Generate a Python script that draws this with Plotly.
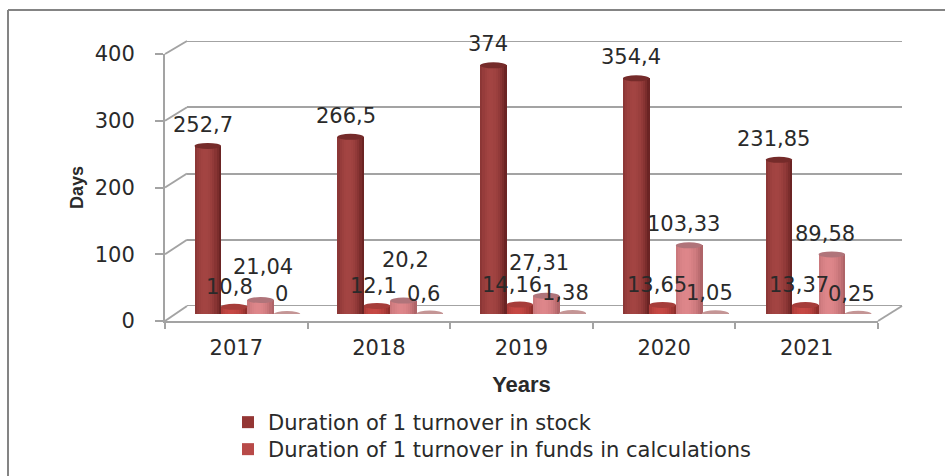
import math
import plotly.graph_objects as go

W, H = 945, 476

years = ["2017", "2018", "2019", "2020", "2021"]
stock = [252.7, 266.5, 374, 354.4, 231.85]
funds = [10.8, 12.1, 14.16, 13.65, 13.37]
third = [21.04, 20.2, 27.31, 103.33, 89.58]
fourth = [0, 0.6, 1.38, 1.05, 0.25]

stock_labels = ["252,7", "266,5", "374", "354,4", "231,85"]
funds_labels = ["10,8", "12,1", "14,16", "13,65", "13,37"]
third_labels = ["21,04", "20,2", "27,31", "103,33", "89,58"]
fourth_labels = ["0", "0,6", "1,38", "1,05", "0,25"]

y_ticks = [0, 100, 200, 300, 400]

# name, values, labels, legend colour, edge, centre, top colour
series = [
    ("Duration of 1 turnover in stock", stock, stock_labels, "#943634", (104, 34, 34), (163, 68, 66), "#752b2a"),
    ("Duration of 1 turnover in funds in calculations", funds, funds_labels, "#b84a48", (140, 44, 42), (198, 72, 68), "#a63d3a"),
    ("third", third, third_labels, "#d4848a", (172, 98, 102), (222, 134, 138), "#b0747a"),
    ("fourth", fourth, fourth_labels, "#c49595", (186, 136, 136), (204, 158, 158), "#c49595"),
]
legend_refs = ["legend", "legend2", None, None]

# label nudges, pixels from the top of the cylinder
label_dx = [[-5] * 5, [-5, -3, -8, -6, -6], [2, 2, -7, -6, -7], [-6, -6, -7, -6, -7]]
label_dy = [[21] * 5, [20] * 5, [33, 41, 33, 21, 20], [20] * 5]

# frame geometry in pixels
FRONT_L, FRONT_R, FRONT_0, FRONT_T = 165, 878, 321, 54
BACK_L, BACK_R, BACK_0, BACK_T = 187, 902, 306, 41
MID_L, MID_R, MID_0, MID_T = 176, 890, 314, 48
AXIS_GREY = "#a3a3a3"
TEXT = "#2a2a2a"
FONT = "DejaVu Sans"

BAR_W = 0.185      # one cylinder, in category units
STRIPS = 12
ELL = 3 * 400 / (MID_0 - MID_T)   # half height of the cylinder ends, in y units


def px(x):
    return x / W


def py(y):
    return 1 - y / H


def mix(a, b, w):
    return "rgb(%d,%d,%d)" % tuple(round(a[i] + (b[i] - a[i]) * w) for i in range(3))


fig = go.Figure()
positions = list(range(len(years)))
shapes = []
annotations = []

# invisible traces so the front and back frames get drawn
fig.add_trace(go.Scatter(x=years, y=[0] * 5, mode="none", showlegend=False, hoverinfo="skip"))
fig.add_trace(go.Scatter(x=positions, y=[0] * 5, mode="none", showlegend=False, hoverinfo="skip",
                         xaxis="x2", yaxis="y2"))

for i, (name, values, labels, legend_col, edge, centre, top_col) in enumerate(series):
    start = (i - 2) * BAR_W
    # full cylinder underneath, this is also the legend entry
    fig.add_trace(go.Bar(
        x=positions, y=values, width=BAR_W, offset=start, name=name,
        marker=dict(color=legend_col, line=dict(width=0)),
        showlegend=legend_refs[i] is not None, legend=legend_refs[i] or "legend",
        xaxis="x3", yaxis="y3",
    ))
    # shading, narrow strips side by side
    for k in range(STRIPS):
        t = (k + 0.5) / STRIPS * 2 - 1
        weight = max(0, 1 - ((t + 0.2) / 1.15) ** 2)
        low = -ELL * math.sqrt(1 - t * t)
        fig.add_trace(go.Bar(
            x=positions, y=[v - low for v in values], base=[low] * 5,
            width=BAR_W / STRIPS + 0.002, offset=start + k * BAR_W / STRIPS,
            marker=dict(color=mix(edge, centre, weight), line=dict(width=0)),
            showlegend=False, hoverinfo="skip", xaxis="x3", yaxis="y3",
        ))
    for j, v in enumerate(values):
        shapes.append(dict(
            type="circle", xref="x3", yref="y3", layer="above",
            x0=j + start, x1=j + start + BAR_W, y0=v - ELL, y1=v + ELL,
            fillcolor=top_col, line=dict(width=0),
        ))
        annotations.append(dict(
            x=j + start + BAR_W / 2, y=v, xref="x3", yref="y3", text=labels[j], showarrow=False,
            xshift=label_dx[i][j], yshift=label_dy[i][j], font=dict(family=FONT, size=21, color=TEXT),
        ))

# side wall and floor diagonals
for tick in y_ticks:
    shift = tick / 400
    shapes.append(dict(
        type="line", xref="paper", yref="paper", layer="below",
        x0=px(FRONT_L), x1=px(BACK_L),
        y0=py(FRONT_0 + (FRONT_T - FRONT_0) * shift), y1=py(BACK_0 + (BACK_T - BACK_0) * shift),
        line=dict(color=AXIS_GREY, width=2),
    ))
shapes.append(dict(type="line", xref="paper", yref="paper", layer="below",
                   x0=px(FRONT_R), x1=px(BACK_R), y0=py(FRONT_0), y1=py(BACK_0),
                   line=dict(color=AXIS_GREY, width=2)))

# plotly leaves out the gridlines at both ends of the range, so add them
for tick in (y_ticks[0], y_ticks[-1]):
    shapes.append(dict(type="line", xref="x2 domain", yref="y2", layer="below",
                       x0=0, x1=1, y0=tick, y1=tick, line=dict(color=AXIS_GREY, width=2)))

# outer border, only left and top are visible in the picture
shapes.append(dict(type="line", xref="paper", yref="paper", x0=px(8), x1=px(8), y0=0, y1=py(10),
                   line=dict(color="#848484", width=2)))
shapes.append(dict(type="line", xref="paper", yref="paper", x0=px(8), x1=1, y0=py(10), y1=py(10),
                   line=dict(color="#848484", width=2)))

legend_style = dict(x=px(228), xanchor="left", yanchor="top", bgcolor="rgba(0,0,0,0)",
                    font=dict(family=FONT, size=21, color=TEXT))

fig.update_layout(
    width=W, height=H, margin=dict(l=0, r=0, t=0, b=0, autoexpand=False),
    paper_bgcolor="white", plot_bgcolor="rgba(0,0,0,0)",
    barmode="overlay", bargap=0,
    shapes=shapes, annotations=annotations,
    font=dict(family=FONT, color=TEXT),
    legend=dict(y=py(402), **legend_style),
    legend2=dict(y=py(429), **legend_style),
    xaxis=dict(
        domain=[px(FRONT_L), px(FRONT_R)], anchor="y", type="category", range=[-0.5, 4.5],
        tickson="boundaries", ticks="outside", ticklen=6, tickwidth=2, tickcolor=AXIS_GREY,
        showline=True, linecolor=AXIS_GREY, linewidth=2, showgrid=False, zeroline=False,
        tickfont=dict(family=FONT, size=21, color=TEXT), ticklabelstandoff=7,
        title=dict(text="<b>Years</b>", font=dict(family="Liberation Sans", size=22, color=TEXT), standoff=17),
    ),
    yaxis=dict(
        domain=[py(FRONT_0), py(FRONT_T)], anchor="x", range=[0, 400], tickvals=y_ticks,
        ticks="outside", ticklen=8, tickwidth=2, tickcolor=AXIS_GREY,
        showline=True, linecolor=AXIS_GREY, linewidth=2, showgrid=False, zeroline=False,
        tickfont=dict(family=FONT, size=21, color=TEXT), ticklabelstandoff=16,
        title=dict(text="<b>Days</b>", font=dict(family="Liberation Sans", size=18, color=TEXT), standoff=6),
    ),
    xaxis2=dict(domain=[px(BACK_L), px(BACK_R)], anchor="y2", range=[-0.5, 4.5], visible=False),
    yaxis2=dict(
        domain=[py(BACK_0), py(BACK_T)], anchor="x2", range=[0, 400], tickvals=y_ticks,
        showgrid=True, gridcolor=AXIS_GREY, gridwidth=2, zeroline=False,
        showticklabels=False, ticks="",
    ),
    xaxis3=dict(domain=[px(MID_L), px(MID_R)], anchor="y3", range=[-0.5, 4.5], visible=False),
    yaxis3=dict(domain=[py(MID_0), py(MID_T)], anchor="x3", range=[0, 400], visible=False),
)

# the page's default body margin would push the figure 8px in
fig.write_html("out.html", config={"displayModeBar": False},
               post_script="document.body.style.margin='0';document.documentElement.style.overflow='hidden';")
